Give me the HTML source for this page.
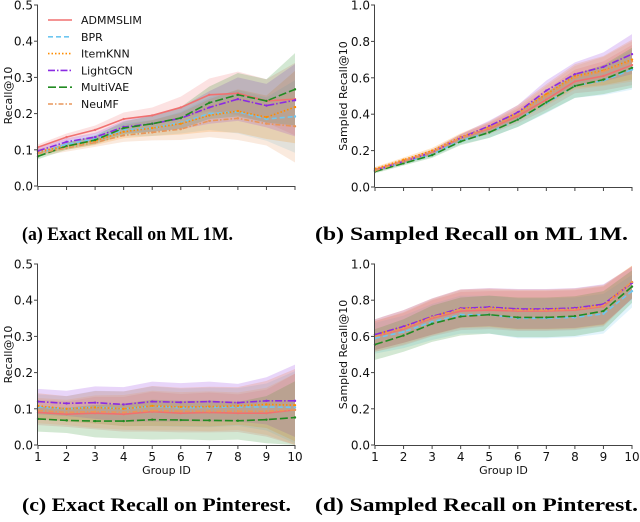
<!DOCTYPE html>
<html><head><meta charset="utf-8">
<style>
html,body{margin:0;padding:0;background:#fff;}
svg text{font-family:"DejaVu Sans","Liberation Sans",sans-serif;}
.cap{font-family:"Liberation Serif",serif;font-weight:bold;font-size:18.5px;}
</style></head>
<body>
<svg id="fig" width="640" height="517" viewBox="0 0 640 517" xmlns="http://www.w3.org/2000/svg">
<text class="cap" x="22" y="240" textLength="211" lengthAdjust="spacingAndGlyphs">(a) Exact Recall on ML 1M.</text>
<text class="cap" x="315" y="240" textLength="313" lengthAdjust="spacingAndGlyphs">(b) Sampled Recall on ML 1M.</text>
<text class="cap" x="22" y="511" textLength="269" lengthAdjust="spacingAndGlyphs">(c) Exact Recall on Pinterest.</text>
<text class="cap" x="315" y="511" textLength="323" lengthAdjust="spacingAndGlyphs">(d) Sampled Recall on Pinterest.</text>
</svg>
<script>
const groups = [1,2,3,4,5,6,7,8,9,10];
const seriesNames = ["ADMMSLIM","BPR","ItemKNN","LightGCN","MultiVAE","NeuMF"];
const seriesColors = ["#f07070","#6ec6f0","#ff8c00","#8a2be2","#228b22","#e8965a"];
const seriesDash = ["", "5,3", "1.5,2", "7,2,1.5,2", "8,3", "5,2,1.5,2"];

// Panel (a) Exact Recall ML 1M
const aADMMSLIM = [.107,.135,.155,.185,.195,.217,.252,.256,.235,.24];
const aBPR      = [.090,.115,.130,.155,.160,.175,.200,.205,.185,.192];
const aItemKNN  = [.095,.110,.125,.150,.160,.172,.195,.207,.190,.218];
const aLightGCN = [.097,.122,.135,.163,.172,.187,.217,.240,.222,.237];
const aMultiVAE = [.082,.110,.127,.160,.172,.188,.230,.252,.235,.267];
const aNeuMF    = [.090,.105,.120,.140,.148,.157,.180,.187,.172,.165];
const aSpread   = [.008,.010,.012,.018,.022,.030,.045,.060,.060,.100];

// Panel (b) Sampled Recall ML 1M
const bADMMSLIM = [.095,.140,.190,.270,.320,.390,.480,.580,.610,.670];
const bBPR      = [.090,.135,.180,.255,.300,.370,.460,.555,.585,.645];
const bItemKNN  = [.100,.150,.200,.275,.330,.410,.510,.610,.640,.700];
const bLightGCN = [.090,.140,.190,.270,.335,.410,.530,.620,.660,.730];
const bMultiVAE = [.085,.130,.175,.250,.300,.370,.465,.555,.590,.655];
const bNeuMF    = [.090,.140,.190,.270,.325,.400,.500,.600,.635,.690];
const bSpread   = [.010,.012,.015,.020,.030,.040,.055,.065,.080,.110];

// Panel (c) Exact Recall Pinterest
const cADMMSLIM = [.090,.085,.088,.085,.092,.088,.090,.088,.088,.097];
const cBPR      = [.105,.100,.105,.100,.107,.103,.104,.105,.105,.104];
const cItemKNN  = [.108,.100,.104,.100,.108,.105,.106,.108,.112,.110];
const cLightGCN = [.120,.115,.117,.112,.120,.118,.120,.117,.122,.122];
const cMultiVAE = [.072,.068,.066,.066,.070,.069,.068,.067,.070,.076];
const cNeuMF    = [.095,.090,.092,.090,.095,.093,.093,.093,.093,.097];
const cSpread   = [.035,.035,.045,.048,.055,.053,.055,.052,.065,.100];

// Panel (d) Sampled Recall Pinterest
const dADMMSLIM = [.600,.640,.700,.740,.745,.740,.740,.745,.765,.900];
const dBPR      = [.590,.625,.680,.720,.720,.700,.700,.705,.725,.850];
const dItemKNN  = [.610,.655,.710,.755,.760,.750,.750,.755,.775,.900];
const dLightGCN = [.610,.655,.710,.755,.762,.752,.752,.757,.778,.895];
const dMultiVAE = [.555,.605,.670,.710,.720,.705,.705,.712,.740,.875];
const dNeuMF    = [.600,.645,.705,.750,.755,.745,.745,.750,.770,.900];
const dSpread   = [.085,.090,.100,.105,.105,.110,.110,.110,.110,.090];

const yTicksA = [0.0,0.1,0.2,0.3,0.4,0.5];
const yTicksB = [0.0,0.2,0.4,0.6,0.8,1.0];

const NS = "http://www.w3.org/2000/svg";
const svg = document.getElementById("fig");
function mk(tag, attrs, parent){
  const e = document.createElementNS(NS, tag);
  for (const k in attrs) e.setAttribute(k, attrs[k]);
  (parent||svg).appendChild(e);
  return e;
}

function panel(id, x0, x1, yTop, yBot, ymax, ticks, ylab, showX, data, spread, labX){
  const g = mk("g", {});
  
  
  const sx = v => x0 + (v - 1) / 9 * (x1 - x0);
  const sy = v => yBot - v / ymax * (yBot - yTop);
  data.forEach((vals, si) => {
    let top = groups.map((gx,i)=>sx(gx)+","+sy(vals[i]+spread[i])).join(" ");
    let bot = groups.map((gx,i)=>sx(gx)+","+sy(Math.max(0,vals[i]-spread[i]))).reverse().join(" ");
    const p = mk("polygon", {points: top+" "+bot, fill: seriesColors[si], "fill-opacity": 0.2, stroke:"none"}, g);
    
    
  });
  data.forEach((vals, si) => {
    const pts = groups.map((gx,i)=>sx(gx)+","+sy(vals[i])).join(" ");
    const l = mk("polyline", {points: pts, fill:"none", stroke: seriesColors[si], "stroke-width": 1.6}, g);
    if (seriesDash[si]) l.setAttribute("stroke-dasharray", seriesDash[si]);
    
    
    groups.forEach((gx,i)=>{
      const m = mk("circle", {cx: sx(gx), cy: sy(vals[i]), r: 1.2, fill: seriesColors[si]}, g);
      
      
    });
  });
  const ax = mk("g", {}, g);
  
  
  mk("line", {x1: x0-0.5, y1: yTop, x2: x0-0.5, y2: yBot+0.5, stroke:"#444", "stroke-width":1}, ax);
  mk("line", {x1: x0-0.5, y1: yBot+0.5, x2: x1, y2: yBot+0.5, stroke:"#444", "stroke-width":1}, ax);
  ticks.forEach(t => {
    mk("line", {x1: x0-4, y1: sy(t), x2: x0, y2: sy(t), stroke:"#444"}, ax);
    const tx = mk("text", {x: x0-5, y: sy(t)+4.5, "text-anchor":"end", "font-size": 12, fill:"#111"}, ax);
    tx.textContent = t.toFixed(1);
    
    
  });
  groups.forEach(gx => {
    mk("line", {x1: sx(gx), y1: yBot, x2: sx(gx), y2: yBot+4, stroke:"#444"}, ax);
    if (showX){
      const tx = mk("text", {x: sx(gx), y: yBot+16, "text-anchor":"middle", "font-size": 12, fill:"#111"}, ax);
      tx.textContent = gx;
      
      
    }
  });
  const yl = mk("text", {x: 0, y: 0, "text-anchor":"middle", "font-size": 11, fill:"#111",
    transform: "translate(" + labX + "," + ((yTop+yBot)/2) + ") rotate(-90)"}, ax);
  yl.textContent = ylab;
  
  
  if (showX){
    const xl = mk("text", {x: (x0+x1)/2, y: yBot+29, "text-anchor":"middle", "font-size": 11, fill:"#111"}, ax);
    xl.textContent = "Group ID";
    
    
  }
  return {sx, sy};
}

panel("a", 38, 295, 5, 186, 0.5, yTicksA, "Recall@10", false,
  [aADMMSLIM,aBPR,aItemKNN,aLightGCN,aMultiVAE,aNeuMF], aSpread, 12);
panel("b", 375, 632, 5, 187, 1.0, yTicksB, "Sampled Recall@10", false,
  [bADMMSLIM,bBPR,bItemKNN,bLightGCN,bMultiVAE,bNeuMF], bSpread, 347);
panel("c", 38, 295, 264, 445, 0.5, yTicksA, "Recall@10", true,
  [cADMMSLIM,cBPR,cItemKNN,cLightGCN,cMultiVAE,cNeuMF], cSpread, 12);
panel("d", 375, 632, 264, 445, 1.0, yTicksB, "Sampled Recall@10", true,
  [dADMMSLIM,dBPR,dItemKNN,dLightGCN,dMultiVAE,dNeuMF], dSpread, 347);

const lg = mk("g", {});


seriesNames.forEach((n, i) => {
  const y = 20 + i * 16.8;
  const e = mk("g", {}, lg);
  
  
  const l = mk("line", {x1: 48, y1: y, x2: 72, y2: y, stroke: seriesColors[i], "stroke-width": 1.6}, e);
  if (seriesDash[i]) l.setAttribute("stroke-dasharray", seriesDash[i]);
  const t = mk("text", {x: 81, y: y + 4, "font-size": 11, fill: "#111"}, e);
  t.textContent = n;
});
</script>
</body></html>
